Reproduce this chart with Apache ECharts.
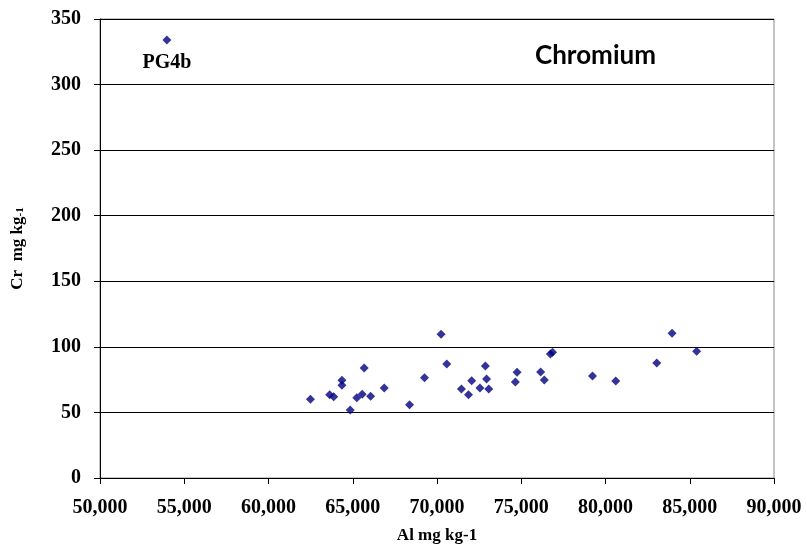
<!DOCTYPE html>
<html><head><meta charset="utf-8">
<script src="https://cdn.jsdelivr.net/npm/echarts@6/dist/echarts.min.js"></script>
<style>html,body{margin:0;padding:0;background:#fff}#c{width:807px;height:550px}</style>
</head><body><div id="c"></div>
<script>
const alValues = [62490,63630,63870,64360,64360,65680,64850,65240,65560,66060,66870,68370,69260,70240,70580,72870,72060,71450,71870,72550,72940,73070,74750,74650,76150,76370,76730,76860,79230,80610,83040,83950,85410];
const crValues = [60,63.5,62,74.5,70.7,83.9,51.9,61.2,63.8,62.3,68.6,55.9,76.5,109.6,86.9,85.4,74.2,67.9,63.5,68.6,75.5,67.9,80.6,73.2,80.8,74.7,94.6,95.8,77.8,74,87.7,110.3,96.6];
const outlierName = 'PG4b';
const outlierAl = 53970;
const outlierCr = 334;
const xTicks = [50000,90000,5000];
const yTicks = [0,350,50];

const chart = echarts.init(document.getElementById('c'));
const font = '"Liberation Serif","Times New Roman",serif';
chart.setOption({
  animation:false,
  title:{text:'Chromium',left:530,top:38,textStyle:{fontFamily:'Lato,"Open Sans",sans-serif',fontWeight:'bold',fontSize:26,color:'#000'}},
  grid:{left:100,right:33,top:19,bottom:72,show:true,borderColor:'#888',borderWidth:1},
  xAxis:{type:'value',min:xTicks[0],max:xTicks[1],interval:xTicks[2],
    name:'Al mg kg-1',nameLocation:'middle',nameGap:49,
    nameTextStyle:{fontFamily:font,fontWeight:'bold',fontSize:17,color:'#000'},
    axisLine:{lineStyle:{color:'#000',width:1}},
    axisTick:{show:true,inside:false,length:6,lineStyle:{color:'#000'}},
    axisLabel:{fontFamily:font,fontWeight:'bold',fontSize:20,color:'#000',margin:20,
      formatter:v=>v.toLocaleString('en-US')},
    splitLine:{show:false}},
  yAxis:{type:'value',min:yTicks[0],max:yTicks[1],interval:yTicks[2],
    name:'{a|Cr  mg kg}{b|-1}',nameLocation:'middle',nameGap:74,
    nameTextStyle:{rich:{a:{fontFamily:font,fontWeight:'bold',fontSize:17,color:'#000'},b:{fontFamily:font,fontWeight:'bold',fontSize:11,color:'#000',verticalAlign:'bottom',padding:[5,0,0,0]}}},
    axisLine:{show:true,lineStyle:{color:'#000',width:1}},
    axisTick:{show:true,length:6,lineStyle:{color:'#000'}},
    axisLabel:{fontFamily:font,fontWeight:'bold',fontSize:20,color:'#000',margin:19},
    splitLine:{show:true,lineStyle:{color:'#000',width:1}}},
  series:[
    {type:'scatter',symbol:'diamond',symbolSize:9,itemStyle:{color:'#000080'},
     data:alValues.map((x,i)=>[x,crValues[i]])},
    {type:'scatter',symbol:'diamond',symbolSize:9,itemStyle:{color:'#000080'},
     data:[{value:[outlierAl,outlierCr],name:outlierName}],
     label:{show:true,position:'bottom',distance:8,formatter:'{b}',fontFamily:font,fontWeight:'bold',fontSize:20,color:'#000',opacity:1}}
  ]
});
</script></body></html>
